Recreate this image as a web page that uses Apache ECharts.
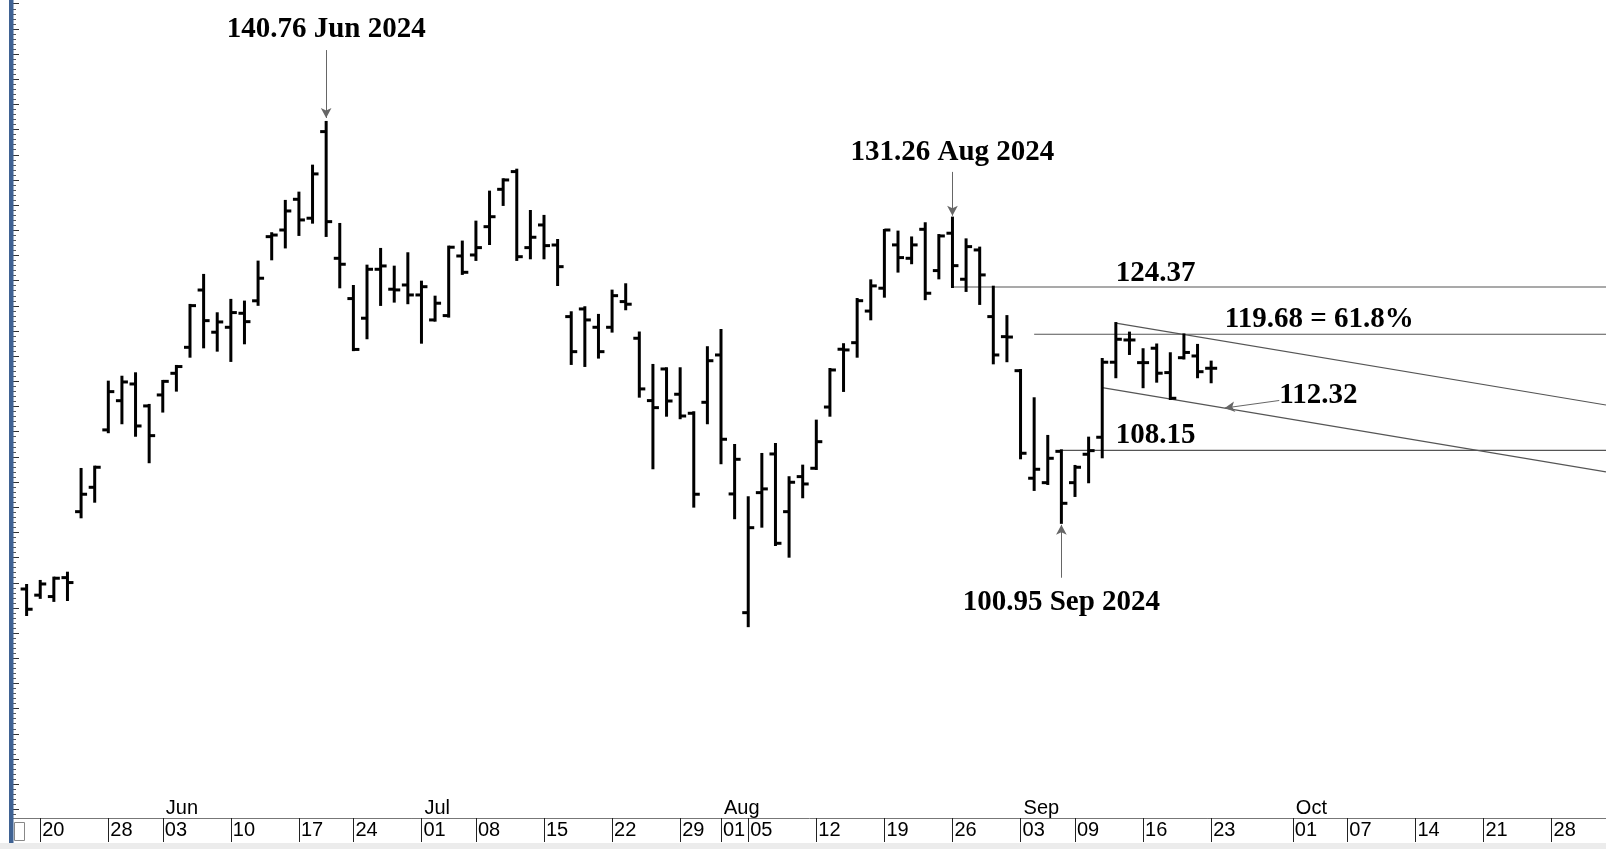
<!DOCTYPE html>
<html>
<head>
<meta charset="utf-8">
<title>Daily bars May - Sep 2024</title>
<script src="https://cdn.jsdelivr.net/npm/echarts@6/dist/echarts.min.js"></script>
<style>
html, body { margin: 0; padding: 0; background: #fff; }
#chart { width: 1606px; height: 849px; }
</style>
</head>
<body>
<div id="chart"></div>
<script>
// trading days on the time axis (first one is an empty slot, last ones are future)
const days = [
  '2024-05-16', '2024-05-17', '2024-05-20', '2024-05-21', '2024-05-22', '2024-05-23', '2024-05-24',
  '2024-05-28', '2024-05-29', '2024-05-30', '2024-05-31',
  '2024-06-03', '2024-06-04', '2024-06-05', '2024-06-06', '2024-06-07', '2024-06-10', '2024-06-11',
  '2024-06-12', '2024-06-13', '2024-06-14', '2024-06-17', '2024-06-18', '2024-06-20', '2024-06-21',
  '2024-06-24', '2024-06-25', '2024-06-26', '2024-06-27', '2024-06-28',
  '2024-07-01', '2024-07-02', '2024-07-03', '2024-07-05', '2024-07-08', '2024-07-09', '2024-07-10',
  '2024-07-11', '2024-07-12', '2024-07-15', '2024-07-16', '2024-07-17', '2024-07-18', '2024-07-19',
  '2024-07-22', '2024-07-23', '2024-07-24', '2024-07-25', '2024-07-26', '2024-07-29', '2024-07-30',
  '2024-07-31',
  '2024-08-01', '2024-08-02', '2024-08-05', '2024-08-06', '2024-08-07', '2024-08-08', '2024-08-09',
  '2024-08-12', '2024-08-13', '2024-08-14', '2024-08-15', '2024-08-16', '2024-08-19', '2024-08-20',
  '2024-08-21', '2024-08-22', '2024-08-23', '2024-08-26', '2024-08-27', '2024-08-28', '2024-08-29',
  '2024-08-30',
  '2024-09-03', '2024-09-04', '2024-09-05', '2024-09-06', '2024-09-09', '2024-09-10', '2024-09-11',
  '2024-09-12', '2024-09-13', '2024-09-16', '2024-09-17', '2024-09-18', '2024-09-19', '2024-09-20',
  '2024-09-23', '2024-09-24', '2024-09-25', '2024-09-26', '2024-09-27', '2024-09-30',
  '2024-10-01', '2024-10-02', '2024-10-03', '2024-10-04', '2024-10-07', '2024-10-08', '2024-10-09',
  '2024-10-10', '2024-10-11', '2024-10-14', '2024-10-15', '2024-10-16', '2024-10-17', '2024-10-18',
  '2024-10-21', '2024-10-22', '2024-10-23', '2024-10-24', '2024-10-25', '2024-10-28', '2024-10-29',
  '2024-10-30', '2024-10-31', '2024-11-01'
];

// first bar date, the OHLC arrays run from here day by day
const firstBar = '2024-05-17';

const opens = [
  94.38, 93.77, 93.63, 95.51, 102.06, 104.48, 110.18, 113.08, 114.74, 112.56,
  113.65, 115.8, 118.38, 124.07, 119.88, 120.37, 121.76, 123.0, 129.37, 130.03,
  133.08, 131.2, 139.8, 127.22, 123.22, 121.27, 126.13, 124.15, 124.57,
  123.58, 121.1, 121.53, 127.45, 127.55, 130.36, 134.07, 135.83, 128.28, 130.53,
  128.54, 121.43, 122.19, 120.37, 120.37, 122.92, 119.28, 113.09, 116.23, 113.72,
  111.83, 112.92,
  117.62, 103.82, 92.03, 103.95, 107.79, 102.06, 105.54, 106.37, 112.45, 118.19,
  118.84, 121.98, 124.25, 128.55, 127.22, 130.1, 126.0, 129.71, 125.14, 128.05,
  121.43, 119.44,
  116.06, 105.38, 104.94, 108.05, 104.94, 107.76, 109.45, 116.9, 119.11, 116.86,
  118.29, 115.87, 117.35, 117.52, 116.3
];
const highs = [
  94.78, 95.18, 95.51, 96.0, 106.3, 106.53, 114.97, 115.46, 115.8, 112.66,
  115.04, 116.53, 122.59, 125.57, 121.76, 123.09, 122.92, 126.89, 129.71, 132.92,
  133.74, 136.42, 140.76, 130.63, 124.47, 126.49, 128.15, 126.39, 127.72,
  124.9, 123.41, 128.38, 128.88, 130.86, 133.84, 135.07, 136.02, 131.92, 131.43,
  129.04, 121.86, 122.36, 121.6, 124.01, 124.64, 119.85, 116.63, 116.3, 116.3,
  111.93, 118.39,
  120.1, 108.68, 103.49, 107.79, 108.78, 105.48, 106.63, 111.1, 116.23, 118.69,
  123.18, 125.03, 130.03, 129.87, 129.29, 130.7, 129.53, 131.26, 129.1, 128.28,
  124.4, 121.48,
  116.13, 113.32, 109.58, 108.15, 106.6, 109.41, 117.22, 120.79, 119.84, 118.19,
  118.66, 117.79, 119.66, 118.62, 116.96
];
const lows = [
  91.8, 93.5, 93.2, 93.29, 101.5, 103.05, 109.95, 110.84, 109.6, 106.97,
  112.0, 114.08, 117.45, 118.38, 118.05, 117.03, 118.78, 122.6, 127.12, 128.3,
  129.54, 130.76, 129.44, 124.34, 118.1, 119.28, 122.59, 122.92, 122.76,
  118.84, 121.03, 121.43, 125.67, 127.06, 128.64, 132.52, 127.06, 127.22, 127.22,
  124.57, 116.73, 116.53, 117.36, 119.94, 122.16, 113.48, 106.37, 111.59, 111.34,
  102.56, 110.84,
  106.87, 101.41, 90.69, 100.57, 98.75, 97.59, 103.49, 106.3, 111.59, 114.05,
  117.45, 121.16, 123.41, 125.9, 126.73, 123.16, 125.23, 124.37, 123.98, 122.69,
  116.79, 117.0,
  107.36, 104.22, 104.81, 100.95, 103.62, 104.98, 107.46, 115.41, 117.72, 114.42,
  114.97, 113.25, 117.27, 115.41, 114.91
];
const closes = [
  92.37, 94.88, 95.45, 95.02, 103.79, 106.47, 113.98, 114.94, 110.57, 109.61,
  115.0, 116.47, 122.52, 121.03, 120.9, 121.83, 120.93, 125.24, 129.53, 131.92,
  131.03, 135.6, 130.86, 126.63, 118.17, 126.13, 126.46, 124.08, 123.58,
  124.4, 122.76, 128.32, 125.83, 128.28, 131.35, 135.0, 127.38, 129.31, 128.48,
  126.39, 117.95, 121.1, 117.95, 123.51, 122.66, 114.25, 112.39, 113.05, 111.56,
  103.79, 117.05,
  109.25, 107.26, 100.47, 104.32, 98.92, 104.98, 104.81, 109.01, 116.13, 118.12,
  123.01, 124.48, 130.03, 127.29, 128.55, 123.75, 129.44, 126.49, 128.38, 125.57,
  117.62, 119.4,
  107.86, 106.27, 107.36, 102.89, 106.47, 108.12, 116.9, 119.18, 119.11, 116.86,
  115.81, 113.32, 117.87, 115.96, 116.3
];

// dates that get a day label / separator, and month captions
const tickDays = [
  '2024-05-20', '2024-05-28', '2024-06-03', '2024-06-10', '2024-06-17', '2024-06-24',
  '2024-07-01', '2024-07-08', '2024-07-15', '2024-07-22', '2024-07-29', '2024-08-01',
  '2024-08-05', '2024-08-12', '2024-08-19', '2024-08-26', '2024-09-03', '2024-09-09',
  '2024-09-16', '2024-09-23', '2024-10-01', '2024-10-07', '2024-10-14', '2024-10-21',
  '2024-10-28'
];
const monthDays = ['2024-06-03', '2024-07-01', '2024-08-01', '2024-09-03', '2024-10-01'];
const monthNames = ['Jun', 'Jul', 'Aug', 'Sep', 'Oct'];

// drawn levels: start day, end day, start price, end price
const levelFrom = ['2024-08-26', '2024-09-04', '2024-09-06', '2024-09-12', '2024-09-11'];
const levelTo = ['2024-11-01', '2024-11-01', '2024-11-01', '2024-11-01', '2024-11-01'];
const levelStart = [124.37, 119.68, 108.15, 120.79, 114.38];
const levelEnd = [124.37, 119.68, 108.15, 112.65, 106.02];

// note texts and arrows
const noteText = ['140.76 Jun 2024', '131.26 Aug 2024', '100.95 Sep 2024', '124.37', '119.68 = 61.8%', '108.15', '112.32'];
const noteDay = ['2024-06-20', '2024-08-26', '2024-09-06', '2024-09-12', '2024-09-24', '2024-09-12', '2024-09-30'];
const notePrice = [149.9, 137.75, 93.0, 125.75, 121.1, 109.65, 113.6];
const noteAlign = ['center', 'center', 'center', 'left', 'left', 'left', 'left'];

const arrowFrom = [['2024-06-20', 147.9], ['2024-08-26', 135.8], ['2024-09-06', 95.5], ['2024-09-30', 113.1]];
const arrowTo = [['2024-06-20', 141.15], ['2024-08-26', 131.45], ['2024-09-06', 100.75], ['2024-09-24', 112.35]];

const yMin = 71.64;
const yMax = 152.87;

const start = days.indexOf(firstBar);
const bars = opens.map((o, i) => [start + i, o, highs[i], lows[i], closes[i]]);

const majorTicks = [];
const minorTicks = [];
for (let v = 72; v <= 152.5; v += 0.5) {
  if (v % 2.5 === 0) majorTicks.push(v);
  else minorTicks.push(v);
}

function renderBar(params, api) {
  const x = api.value(0);
  const pO = api.coord([x, api.value(1)]);
  const pH = api.coord([x, api.value(2)]);
  const pL = api.coord([x, api.value(3)]);
  const pC = api.coord([x, api.value(4)]);
  const st = { stroke: '#000', lineWidth: 3 };
  return {
    type: 'group',
    children: [
      { type: 'line', shape: { x1: pH[0], y1: pH[1] - 1, x2: pL[0], y2: pL[1] + 1 }, style: st },
      { type: 'line', shape: { x1: pO[0] - 6, y1: pO[1], x2: pO[0], y2: pO[1] }, style: st },
      { type: 'line', shape: { x1: pC[0], y1: pC[1], x2: pC[0] + 6, y2: pC[1] }, style: st }
    ]
  };
}

const axisFont = "'Liberation Sans Narrow', 'Arial Narrow', 'Liberation Sans', sans-serif";
const noteFont = "'Liberation Serif', 'Times New Roman', serif";

const levelSeries = levelFrom.map((d, i) => ({
  type: 'line',
  data: [[d, levelStart[i]], [levelTo[i], levelEnd[i]]],
  symbol: 'none',
  silent: true,
  z: 1,
  lineStyle: { color: '#555', width: 1.2 }
}));

// arrows from the notes to the marked bars
levelSeries[0].markLine = {
  silent: true,
  symbol: ['none', 'arrow'],
  symbolSize: [8, 10],
  label: { show: false },
  lineStyle: { color: '#666', width: 1, type: 'solid' },
  data: arrowFrom.map((a, i) => [
    { coord: a },
    { coord: arrowTo[i], itemStyle: { color: '#111' } }
  ])
};

const myChart = echarts.init(document.getElementById('chart'));

const option = {
  animation: false,
  backgroundColor: '#fff',
  grid: { left: 13, right: -5.2, top: 0, bottom: 31 },
  xAxis: [
    {
      type: 'category',
      data: days,
      boundaryGap: false,
      position: 'bottom',
      axisLine: { lineStyle: { color: '#777', width: 1 } },
      axisTick: {
        show: true,
        interval: (i, v) => tickDays.includes(v),
        length: 24,
        lineStyle: { color: '#222', width: 1 }
      },
      axisLabel: {
        interval: (i, v) => tickDays.includes(v),
        formatter: v => v.slice(8),
        align: 'left',
        margin: 2,
        padding: [0, 0, 0, 2],
        fontFamily: axisFont,
        fontSize: 20,
        color: '#000'
      },
      splitLine: { show: false }
    },
    {
      type: 'category',
      data: days,
      boundaryGap: false,
      position: 'bottom',
      axisLine: { show: false },
      axisTick: { show: false },
      axisLabel: {
        inside: true,
        interval: (i, v) => monthDays.includes(v),
        formatter: v => monthNames[monthDays.indexOf(v)],
        align: 'left',
        margin: 0,
        padding: [0, 0, 0, 3],
        fontFamily: axisFont,
        fontSize: 20,
        color: '#000'
      },
      splitLine: { show: false }
    }
  ],
  yAxis: [
    {
      type: 'value',
      min: yMin,
      max: yMax,
      position: 'left',
      axisLine: { show: false },
      axisLabel: { show: false },
      splitLine: { show: false },
      axisTick: {
        show: true,
        inside: true,
        length: 6,
        customValues: majorTicks,
        lineStyle: { color: '#333', width: 1 }
      }
    },
    {
      type: 'value',
      min: yMin,
      max: yMax,
      position: 'left',
      axisLine: { show: false },
      axisLabel: { show: false },
      splitLine: { show: false },
      axisTick: {
        show: true,
        inside: true,
        length: 3,
        customValues: minorTicks,
        lineStyle: { color: '#555', width: 1 }
      }
    }
  ],
  graphic: [
    { type: 'rect', shape: { x: 9, y: 0, width: 4.5, height: 849 }, style: { fill: '#3f6293' }, z: 100 },
    { type: 'rect', shape: { x: 0, y: 843, width: 1606, height: 6 }, style: { fill: '#ececec' }, z: 100 },
    { type: 'rect', shape: { x: 14.5, y: 822.5, width: 10, height: 18 }, style: { fill: '#fff', stroke: '#888', lineWidth: 1 }, z: 100 }
  ],
  series: [
    ...levelSeries,
    {
      type: 'custom',
      name: 'bars',
      renderItem: renderBar,
      data: bars,
      encode: { x: 0, y: [1, 2, 3, 4] },
      clip: false,
      z: 3
    },
    {
      type: 'scatter',
      symbolSize: 0,
      silent: true,
      z: 5,
      itemStyle: { opacity: 1 },
      data: noteText.map((t, i) => ({
        value: [noteDay[i], notePrice[i]],
        label: { align: noteAlign[i] }
      })),
      label: {
        show: true,
        position: [0, 0],
        verticalAlign: 'middle',
        formatter: p => noteText[p.dataIndex],
        fontFamily: noteFont,
        fontWeight: 'bold',
        fontSize: 29,
        color: '#000',
        opacity: 1
      }
    }
  ]
};

myChart.setOption(option);
</script>
</body>
</html>
